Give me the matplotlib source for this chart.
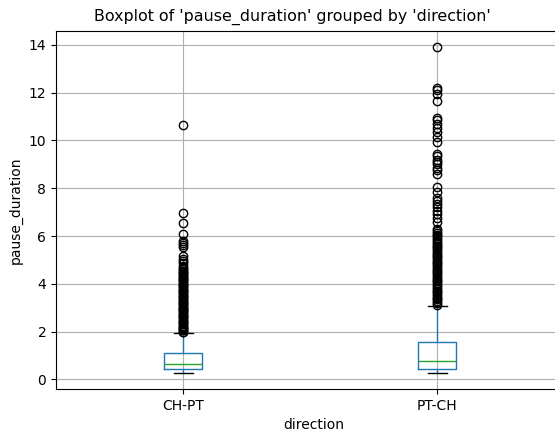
import numpy as np
import matplotlib
matplotlib.use('Agg')
import matplotlib.pyplot as plt

# categories and box statistics
directions = ['CH-PT', 'PT-CH']
q1 = [0.42, 0.45]
median = [0.64, 0.78]
q3 = [1.09, 1.56]
whis_lo = [0.28, 0.28]
whis_hi = [1.95, 3.09]

# outliers
fliers_chpt = [10.65, 6.95, 6.55, 6.1, 5.78, 5.7, 5.62, 5.55, 5.15, 5.05, 4.95,
               4.85, 4.75, 4.68, 4.6, 4.55, 4.5, 4.45, 4.4, 4.35, 4.3, 4.25,
               4.2, 4.15, 4.1, 4.05, 4.0, 3.95, 3.9, 3.85, 3.8, 3.75, 3.7,
               3.65, 3.6, 3.55, 3.5, 3.45, 3.4, 3.35, 3.3, 3.25, 3.2, 3.15,
               3.1, 3.05, 3.0, 2.95, 2.9, 2.85, 2.8, 2.75, 2.7, 2.65, 2.6,
               2.55, 2.5, 2.45, 2.4, 2.35, 2.3, 2.25, 2.2, 2.15, 2.1, 2.05,
               2.0, 1.97]
fliers_ptch = [13.9, 12.2, 12.1, 11.95, 11.65, 10.95, 10.85, 10.7, 10.5, 10.35,
               10.15, 9.95, 9.45, 9.35, 9.2, 9.1, 9.0, 8.85, 8.75, 8.6, 8.05,
               7.85, 7.6, 7.45, 7.35, 7.2, 7.05, 6.9, 6.75, 6.6, 6.3, 6.2, 6.12,
               6.05, 5.98, 5.9, 5.82, 5.75, 5.68, 5.6, 5.52, 5.45, 5.38, 5.3,
               5.22, 5.15, 5.08, 5.0, 4.92, 4.85, 4.78, 4.7, 4.62, 4.55, 4.48,
               4.4, 4.32, 4.25, 4.18, 4.1, 4.02, 3.95, 3.88, 3.8, 3.72, 3.65,
               3.58, 3.5, 3.42, 3.35, 3.28, 3.2, 3.13]
fliers = [fliers_chpt, fliers_ptch]

stats = []
for i, name in enumerate(directions):
    stats.append(dict(label=name, q1=q1[i], med=median[i], q3=q3[i],
                      whislo=whis_lo[i], whishi=whis_hi[i], fliers=fliers[i]))

fig = plt.figure(figsize=(5.55, 4.32), dpi=100)
ax = fig.add_axes([0.1009, 0.0995, 0.93, 0.829])

ax.bxp(stats, positions=[1, 2], widths=0.15,
       boxprops=dict(color='#1f77b4'),
       whiskerprops=dict(color='#1f77b4'),
       medianprops=dict(color='#2ca02c'),
       capprops=dict(color='k'),
       flierprops=dict(marker='o', markerfacecolor='none', markeredgecolor='k'))

ax.set_xlim(0.5, 2.5 + 0.03)
ax.set_xticks([1, 2])
ax.set_xticklabels(directions)
ax.set_yticks(np.arange(0, 15, 2))
ax.grid(True)
ax.set_axisbelow(True)
ax.set_xlabel('direction')
ax.set_ylabel('pause_duration')
fig.suptitle("Boxplot of 'pause_duration' grouped by 'direction'",
             x=0.526, y=0.98, fontsize=11.4)

plt.savefig('out.png', dpi=100)
